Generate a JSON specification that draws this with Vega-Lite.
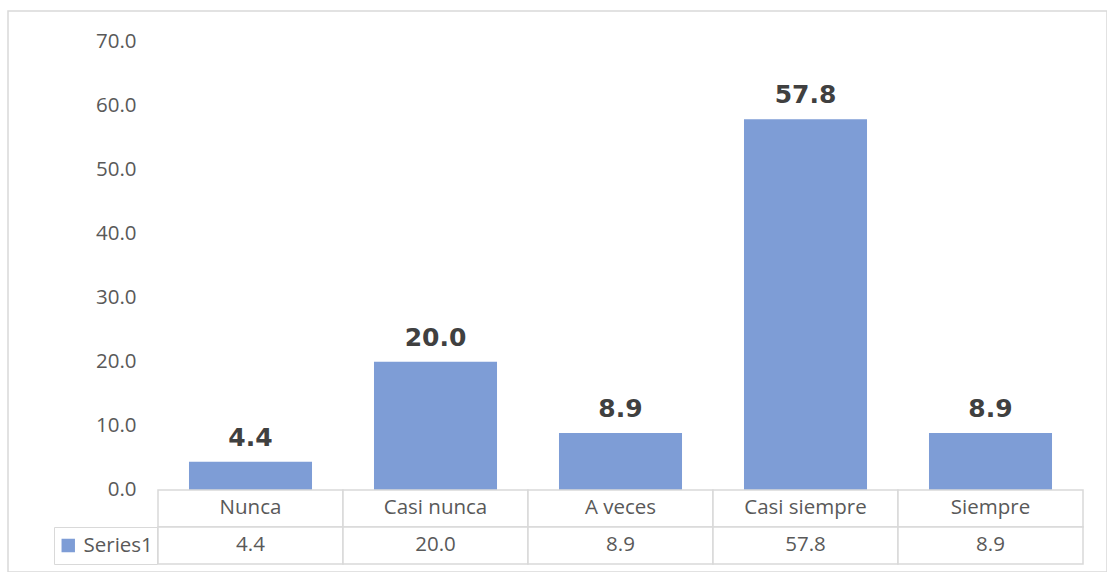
{
  "$schema": "https://vega.github.io/schema/vega-lite/v6.json",
  "width": 1099,
  "height": 561,
  "autosize": {"type": "none"},
  "padding": {"left": 8, "top": 11, "right": 0, "bottom": 0},
  "background": "white",
  "config": {
    "view": {"stroke": "#D9D9D9", "strokeWidth": 1.5},
    "font": "Open Sans"
  },
  "data": {
    "values": [
      {"category": "Nunca", "value": 4.4, "series": "Series1"},
      {"category": "Casi nunca", "value": 20.0, "series": "Series1"},
      {"category": "A veces", "value": 8.9, "series": "Series1"},
      {"category": "Casi siempre", "value": 57.8, "series": "Series1"},
      {"category": "Siempre", "value": 8.9, "series": "Series1"}
    ]
  },
  "layer": [
    {
      "mark": {"type": "bar"},
      "encoding": {
        "x": {
          "field": "category", "type": "nominal", "sort": null,
          "scale": {"range": [150, 1075], "paddingInner": 0.335, "paddingOuter": 0.1675},
          "axis": null
        },
        "y": {
          "field": "value", "type": "quantitative",
          "scale": {"domain": [-11.54, 70], "range": [553, 30], "nice": false, "zero": false},
          "axis": {
            "values": [0, 10, 20, 30, 40, 50, 60, 70],
            "format": ".1f",
            "offset": -150,
            "labelPadding": 22,
            "ticks": false,
            "domain": false,
            "grid": false,
            "title": null,
            "labelFont": "Open Sans",
            "labelFontSize": 20.5,
            "labelColor": "#595959"
          }
        },
        "color": {
          "field": "series", "type": "nominal",
          "scale": {"range": ["#7E9DD6"]},
          "legend": {
            "orient": "none",
            "legendX": 46,
            "legendY": 516,
            "title": null,
            "symbolType": "square",
            "symbolSize": 180,
            "symbolStrokeWidth": 0,
            "labelFont": "Open Sans",
            "labelFontSize": 20.5,
            "labelColor": "#595959",
            "labelOffset": 5,
            "padding": 4,
            "clipHeight": 29,
            "strokeColor": "#D9D9D9"
          }
        }
      }
    },
    {
      "mark": {"type": "text", "font": "DejaVu Sans", "fontWeight": "bold", "fontSize": 25, "color": "#404040", "baseline": "alphabetic", "dy": -16},
      "encoding": {
        "x": {
          "field": "category", "type": "nominal", "sort": null,
          "scale": {"range": [150, 1075], "paddingInner": 0.335, "paddingOuter": 0.1675},
          "axis": null
        },
        "y": {"field": "value", "type": "quantitative"},
        "text": {"field": "value", "type": "quantitative", "format": ".1f"}
      }
    },
    {
      "mark": {"type": "rect", "fill": "white", "stroke": "#D9D9D9", "strokeWidth": 1.5},
      "encoding": {
        "x": {
          "field": "category", "type": "nominal", "sort": null,
          "scale": {"range": [150, 1075], "paddingInner": 0, "paddingOuter": 0},
          "axis": null
        },
        "y": {"datum": 0, "type": "quantitative"},
        "y2": {"datum": -5.77}
      }
    },
    {
      "mark": {"type": "rect", "fill": "white", "stroke": "#D9D9D9", "strokeWidth": 1.5},
      "encoding": {
        "x": {
          "field": "category", "type": "nominal", "sort": null,
          "scale": {"range": [150, 1075], "paddingInner": 0, "paddingOuter": 0},
          "axis": null
        },
        "y": {"datum": -5.77, "type": "quantitative"},
        "y2": {"datum": -11.54}
      }
    },
    {
      "mark": {"type": "text", "font": "Open Sans", "fontSize": 20.5, "color": "#595959", "baseline": "middle"},
      "encoding": {
        "x": {
          "field": "category", "type": "nominal", "sort": null,
          "scale": {"range": [150, 1075], "paddingInner": 0, "paddingOuter": 0},
          "axis": null
        },
        "y": {"datum": -2.885, "type": "quantitative"},
        "text": {"field": "category", "type": "nominal"}
      }
    },
    {
      "mark": {"type": "text", "font": "Open Sans", "fontSize": 20.5, "color": "#595959", "baseline": "middle"},
      "encoding": {
        "x": {
          "field": "category", "type": "nominal", "sort": null,
          "scale": {"range": [150, 1075], "paddingInner": 0, "paddingOuter": 0},
          "axis": null
        },
        "y": {"datum": -8.655, "type": "quantitative"},
        "text": {"field": "value", "type": "quantitative", "format": ".1f"}
      }
    }
  ],
  "resolve": {"scale": {"x": "independent"}}
}
